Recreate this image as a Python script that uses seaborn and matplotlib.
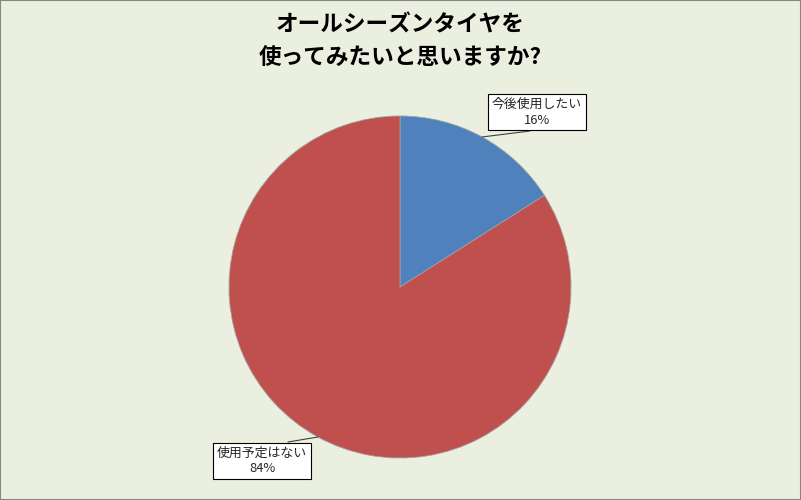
import matplotlib
matplotlib.use("Agg")
import matplotlib.pyplot as plt
import seaborn as sns

categories = ["今後使用したい", "使用予定はない"]
values = [16, 84]
title_lines = ["オールシーズンタイヤを", "使ってみたいと思いますか?"]

sns.set_style("white")
plt.rcParams['font.family'] = ['Noto Sans CJK JP', 'DejaVu Sans']

colors = ["#4F81BD", "#C0504D"]
bg = "#EBEFDF"

W, H = 801, 500
fig = plt.figure(figsize=(W / 100, H / 100), dpi=100, facecolor=bg)
fig.patches.append(plt.Rectangle((0, 0), 1, 1, transform=fig.transFigure,
                                 fill=False, edgecolor="#868686", linewidth=1.5))

cx, cy, r = 400, 287, 171
ax = fig.add_axes([(cx - r) / W, (H - cy - r) / H, 2 * r / W, 2 * r / H])
ax.set_facecolor("none")
wedges, _ = ax.pie(values, colors=colors, startangle=90, counterclock=False,
                   radius=1, wedgeprops=dict(edgecolor="#A0A0A0", linewidth=0.6))
ax.set_xlim(-1, 1)
ax.set_ylim(-1, 1)
ax.set_aspect("equal")
ax.axis("off")

fig.text(0.5, 1 - 25 / H, title_lines[0], ha="center", va="center",
         fontsize=16.3, fontweight="bold", color="black")
fig.text(0.5, 1 - 57 / H, title_lines[1], ha="center", va="center",
         fontsize=16.3, fontweight="bold", color="black")

def px(x, y):
    return ((x - cx) / r, (cy - y) / r)

label_pos = [(537, 112), (262, 461)]
line_end = [(530, 131), (288, 442)]
anchors = [(482, 137), (318, 437)]
for cat, val, lp, le, an in zip(categories, values, label_pos, line_end, anchors):
    ax.plot(*zip(px(*an), px(*le)), color="#404040", linewidth=0.8, clip_on=False)
    ax.text(*px(*lp), f"{cat}\n{val}%", ha="center", va="center", fontsize=9.3,
            linespacing=1.3,
            bbox=dict(boxstyle="square,pad=0.3", facecolor="white",
                      edgecolor="black", linewidth=0.8), zorder=5, clip_on=False)

fig.savefig("out.png", dpi=100, facecolor=bg)
